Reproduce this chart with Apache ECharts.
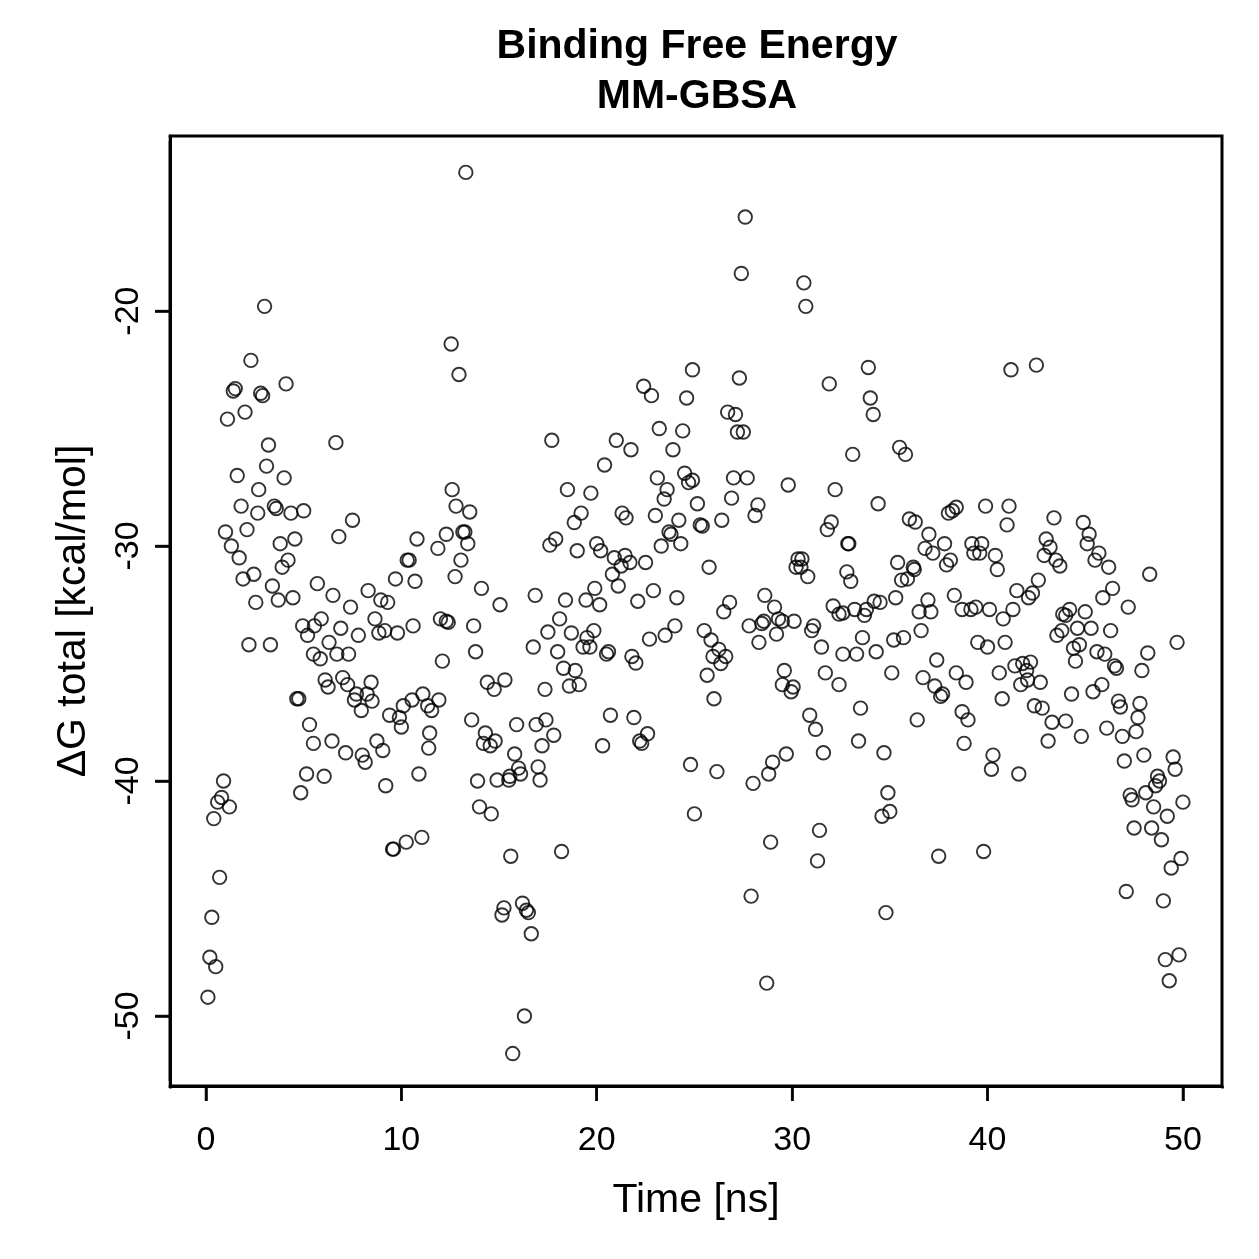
<!DOCTYPE html>
<html>
<head>
<meta charset="utf-8">
<script src="https://cdn.jsdelivr.net/npm/echarts@6/dist/echarts.min.js"></script>
<style>
html,body{margin:0;padding:0;background:#fff;}
#chart{width:1259px;height:1259px;background:#fff;}
</style>
</head>
<body>
<div id="chart"></div>
<script>
// [time (ns), ΔG total (kcal/mol)], grouped by decade
const pts0to10 = [
[0.1,-49.2],[0.2,-47.5],[0.3,-45.8],[0.4,-41.6],[0.5,-47.9],[0.6,-40.9],[0.7,-44.1],[0.8,-40.7],[0.9,-40.0],
[1.0,-29.4],[1.1,-24.6],[1.2,-41.1],[1.3,-30.0],[1.4,-23.4],[1.5,-23.3],[1.6,-27.0],[1.7,-30.5],[1.8,-28.3],[1.9,-31.4],
[2.0,-24.3],[2.1,-29.3],[2.2,-34.2],[2.3,-22.1],[2.45,-31.2],[2.55,-32.4],[2.65,-28.6],[2.7,-27.6],[2.8,-23.5],[2.9,-23.6],
[3.0,-19.8],[3.1,-26.6],[3.2,-25.7],[3.3,-34.2],[3.4,-31.7],[3.5,-28.3],[3.6,-28.4],[3.7,-32.3],[3.8,-29.9],[3.9,-30.9],
[4.0,-27.1],[4.1,-23.1],[4.2,-30.6],[4.35,-28.6],[4.45,-32.2],[4.55,-29.7],[4.65,-36.5],[4.75,-36.5],[4.85,-40.5],[4.95,-33.4],
[5.0,-28.5],[5.15,-39.7],[5.2,-33.8],[5.3,-37.6],[5.5,-38.4],[5.5,-34.6],[5.55,-33.4],[5.7,-31.6],[5.85,-34.8],[5.9,-33.1],
[6.05,-39.8],[6.1,-35.7],[6.25,-36.0],[6.3,-34.1],[6.45,-38.3],[6.5,-32.1],[6.65,-25.6],[6.7,-34.6],[6.8,-29.6],[6.9,-33.5],
[7.0,-35.6],[7.15,-38.8],[7.25,-35.9],[7.3,-34.6],[7.4,-32.6],[7.5,-28.9],[7.6,-36.55],[7.7,-36.3],[7.8,-33.8],[7.95,-37.0],
[8.0,-38.9],[8.15,-39.2],[8.25,-36.3],[8.3,-31.9],[8.45,-35.8],[8.5,-36.6],[8.65,-33.1],[8.75,-38.3],[8.85,-33.7],[8.95,-32.3],
[9.05,-38.7],[9.15,-33.6],[9.2,-40.2],[9.3,-32.4],[9.4,-37.2],[9.55,-42.9],[9.6,-42.9],[9.7,-31.4],[9.8,-33.7],[9.9,-37.3]
];
const pts10to20 = [
[10.0,-37.7],[10.1,-36.8],[10.25,-42.6],[10.3,-30.6],[10.4,-30.6],[10.55,-36.55],[10.6,-33.4],[10.7,-31.5],[10.8,-29.7],[10.9,-39.7],
[11.05,-42.4],[11.1,-36.3],[11.35,-36.8],[11.4,-38.6],[11.45,-37.96],[11.55,-37.0],[11.87,-30.1],[11.92,-36.55],
[12.0,-33.1],[12.1,-34.9],[12.3,-33.2],[12.3,-29.5],[12.4,-33.25],[12.55,-21.4],[12.6,-27.6],[12.75,-31.3],[12.8,-28.3],[12.95,-22.7],
[13.05,-30.6],[13.15,-29.4],[13.25,-29.4],[13.3,-14.1],[13.4,-29.9],[13.5,-28.55],[13.6,-37.4],[13.7,-33.4],[13.8,-34.5],[13.9,-40.0],
[14.0,-41.1],[14.1,-31.8],[14.2,-38.4],[14.3,-37.96],[14.4,-35.8],[14.55,-38.5],[14.6,-41.4],[14.75,-36.1],[14.8,-38.3],[14.9,-39.96],
[15.05,-32.5],[15.15,-45.7],[15.25,-45.4],[15.3,-35.7],[15.5,-39.96],[15.55,-39.8],[15.6,-43.2],[15.7,-51.6],[15.8,-38.85],[15.9,-37.6],
[16.0,-39.45],[16.1,-39.7],[16.2,-45.2],[16.3,-50.0],[16.4,-45.5],[16.5,-45.6],[16.65,-46.5],[16.75,-34.3],[16.85,-32.1],[16.9,-37.6],
[17.0,-39.4],[17.1,-39.96],[17.2,-38.5],[17.35,-36.1],[17.4,-37.4],[17.5,-33.66],[17.6,-29.96],[17.7,-25.5],[17.8,-38.05],[17.9,-29.7],
[18.0,-34.5],[18.1,-33.1],[18.2,-43.0],[18.3,-35.2],[18.4,-32.3],[18.5,-27.6],[18.6,-35.96],[18.7,-33.7],[18.85,-29.0],[18.9,-35.3],
[19.0,-30.2],[19.1,-35.9],[19.2,-28.6],[19.3,-34.3],[19.45,-32.3],[19.5,-33.9],[19.65,-34.3],[19.7,-27.75],[19.85,-33.6],[19.9,-31.8]
];
const pts20to30 = [
[20.0,-29.9],[20.15,-32.5],[20.2,-30.2],[20.3,-38.5],[20.4,-26.55],[20.5,-34.6],[20.6,-34.5],[20.7,-37.2],[20.8,-31.2],[20.9,-30.5],
[21.0,-25.5],[21.1,-31.7],[21.25,-30.85],[21.3,-28.6],[21.45,-30.4],[21.5,-28.8],[21.7,-30.7],[21.75,-25.9],[21.8,-34.7],[21.9,-37.3],
[22.0,-34.98],[22.1,-32.35],[22.2,-38.3],[22.3,-38.4],[22.4,-23.2],[22.5,-30.7],[22.6,-37.99],[22.7,-33.96],[22.8,-23.6],[22.9,-31.9],
[23.0,-28.7],[23.1,-27.1],[23.2,-25.0],[23.3,-30.0],[23.45,-28.0],[23.5,-33.8],[23.6,-27.6],[23.7,-29.4],[23.8,-29.5],[23.9,-25.9],
[24.0,-33.4],[24.1,-32.2],[24.2,-28.9],[24.3,-29.9],[24.4,-25.1],[24.5,-26.9],[24.6,-23.7],[24.7,-27.3],[24.8,-39.3],[24.9,-27.2],[24.9,-22.5],
[25.0,-41.4],[25.15,-28.2],[25.3,-29.1],[25.4,-29.15],[25.5,-33.6],[25.65,-35.5],[25.75,-30.9],[25.85,-34.0],[25.95,-34.7],
[26.0,-36.5],[26.15,-39.6],[26.25,-34.4],[26.35,-35.0],[26.4,-28.9],[26.5,-32.8],[26.6,-34.7],[26.7,-24.3],[26.8,-32.4],[26.9,-27.96],
[27.0,-27.1],[27.1,-24.4],[27.2,-25.15],[27.3,-22.85],[27.4,-18.4],[27.5,-25.15],[27.6,-16.0],[27.7,-27.1],[27.8,-33.4],[27.9,-44.9],
[28.0,-40.1],[28.1,-28.7],[28.25,-28.25],[28.3,-34.1],[28.45,-33.3],[28.55,-33.2],[28.6,-32.1],[28.7,-48.6],[28.8,-39.7],[28.9,-42.6],
[29.0,-39.2],[29.1,-32.6],[29.2,-33.75],[29.3,-33.1],[29.5,-33.2],[29.5,-35.9],[29.6,-35.3],[29.7,-38.85],[29.8,-27.4],[29.95,-36.2]
];
const pts30to40 = [
[30.05,-36.0],[30.1,-33.2],[30.2,-30.9],[30.3,-30.55],[30.45,-30.9],[30.5,-30.55],[30.6,-18.8],[30.7,-19.8],[30.8,-31.3],[30.9,-37.2],
[31.0,-33.6],[31.1,-33.4],[31.2,-37.8],[31.3,-43.4],[31.4,-42.1],[31.5,-34.3],[31.6,-38.8],[31.7,-35.4],[31.8,-29.3],[31.9,-23.1],
[32.0,-28.98],[32.1,-32.55],[32.2,-27.6],[32.4,-32.9],[32.4,-35.9],[32.6,-32.85],[32.6,-34.6],[32.8,-31.1],[32.85,-29.9],[32.9,-29.9],
[33.0,-31.5],[33.1,-26.1],[33.2,-32.7],[33.3,-34.6],[33.4,-38.3],[33.5,-36.9],[33.6,-33.9],[33.7,-32.95],[33.8,-32.7],[33.9,-22.4],
[34.0,-23.7],[34.15,-24.4],[34.2,-32.35],[34.3,-34.5],[34.4,-28.2],[34.5,-32.4],[34.6,-41.5],[34.7,-38.8],[34.8,-45.6],[34.9,-40.5],
[35.0,-41.3],[35.1,-35.4],[35.2,-34.0],[35.3,-32.2],[35.4,-30.7],[35.5,-25.8],[35.6,-31.45],[35.7,-33.9],[35.8,-26.1],[35.9,-31.4],
[36.0,-28.85],[36.2,-30.9],[36.25,-31.0],[36.3,-28.98],[36.4,-37.4],[36.5,-32.8],[36.6,-33.6],[36.7,-35.6],[36.8,-30.1],[36.95,-32.3],
[37.0,-29.5],[37.1,-32.8],[37.2,-30.3],[37.3,-35.96],[37.4,-34.85],[37.5,-43.2],[37.6,-36.4],[37.7,-36.3],[37.8,-29.9],[37.9,-30.8],
[38.0,-28.6],[38.1,-30.6],[38.2,-28.5],[38.3,-32.1],[38.4,-28.35],[38.4,-35.4],[38.7,-32.7],[38.7,-37.05],[38.8,-38.4],[38.9,-35.8],
[39.0,-37.4],[39.15,-32.7],[39.2,-29.9],[39.3,-30.3],[39.4,-32.6],[39.5,-34.1],[39.6,-30.3],[39.7,-29.9],[39.8,-43.0],[39.9,-28.3]
];
const pts40to50 = [
[40.0,-34.3],[40.1,-32.7],[40.2,-39.5],[40.28,-38.9],[40.4,-30.4],[40.5,-31.0],[40.6,-35.4],[40.75,-36.5],[40.8,-33.1],[40.9,-34.1],
[41.0,-29.1],[41.1,-28.3],[41.2,-22.5],[41.3,-32.7],[41.4,-35.1],[41.5,-31.9],[41.6,-39.7],[41.7,-35.9],[41.8,-35.0],
[42.0,-35.3],[42.05,-35.7],[42.1,-32.2],[42.2,-34.94],[42.3,-32.0],[42.4,-36.8],[42.5,-22.3],[42.6,-31.45],[42.7,-35.8],[42.8,-36.9],[42.9,-30.4],
[43.0,-29.7],[43.1,-38.3],[43.2,-30.05],[43.3,-37.5],[43.4,-28.8],[43.5,-30.6],[43.55,-33.8],[43.7,-30.85],[43.8,-33.6],[43.85,-32.9],
[44.0,-32.95],[44.0,-37.45],[44.2,-32.7],[44.3,-36.3],[44.4,-34.35],[44.5,-34.9],[44.6,-33.5],[44.7,-34.2],[44.8,-38.1],[44.9,-29.0],
[45.0,-32.8],[45.1,-29.9],[45.2,-29.5],[45.3,-33.5],[45.4,-36.2],[45.5,-30.6],[45.6,-34.5],[45.7,-30.3],[45.85,-35.9],[45.9,-32.2],
[46.0,-34.6],[46.1,-37.75],[46.2,-30.9],[46.3,-33.6],[46.4,-31.8],[46.5,-35.1],[46.6,-35.2],[46.7,-36.6],[46.8,-36.85],[46.9,-38.1],
[47.0,-39.15],[47.1,-44.7],[47.2,-32.6],[47.3,-40.6],[47.4,-40.8],[47.5,-42.0],[47.6,-37.9],[47.7,-37.3],[47.8,-36.7],[47.9,-35.3],
[48.0,-38.9],[48.1,-40.5],[48.2,-34.55],[48.3,-31.2],[48.4,-42.0],[48.5,-41.1],[48.6,-40.2],[48.7,-39.8],[48.8,-40.0],[48.9,-42.5],
[49.0,-45.1],[49.1,-47.6],[49.2,-41.5],[49.3,-48.5],[49.4,-43.7],[49.5,-38.98],[49.6,-39.5],[49.7,-34.1],[49.8,-47.4],[49.9,-43.3],[50.0,-40.9]
];
const xTicks = [0, 10, 20, 30, 40, 50];
const yTicks = [-50, -40, -30, -20];
const titleLines = ['Binding Free Energy', 'MM-GBSA'];
const xName = 'Time [ns]';
const yName = 'ΔG total [kcal/mol]';

const X_MIN = -1.84, X_MAX = 52.0, Y_MIN = -52.98, Y_MAX = -12.55;
const TICK_LEN = 15;

const allPts = [].concat(pts0to10, pts10to20, pts20to30, pts30to40, pts40to50);
const FONT = '"Liberation Sans", Arial, Helvetica, sans-serif';
const maskStyle = {fill: '#ffffff'};

const chart = echarts.init(document.getElementById('chart'), null, {renderer: 'canvas'});
chart.setOption({
  animation: false,
  graphic: [
    {type: 'text', x: 697, y: 47, style: {text: titleLines[0], align: 'center', verticalAlign: 'middle', font: 'bold 41px ' + FONT, fill: '#000'}},
    {type: 'text', x: 697, y: 97, style: {text: titleLines[1], align: 'center', verticalAlign: 'middle', font: 'bold 41px ' + FONT, fill: '#000'}},
    {type: 'rect', z: 100, shape: {x: 165, y: 1088.5, width: 10, height: 20}, style: maskStyle},
    {type: 'rect', z: 100, shape: {x: 1217, y: 1088.5, width: 10, height: 20}, style: maskStyle},
    {type: 'rect', z: 100, shape: {x: 148, y: 131, width: 20.5, height: 10}, style: maskStyle},
    {type: 'rect', z: 100, shape: {x: 148, y: 1081, width: 20.5, height: 10}, style: maskStyle}
  ],
  grid: {left: 170, right: 37, top: 136, bottom: 173, show: true, borderColor: '#000', borderWidth: 3},
  xAxis: {
    type: 'value', min: X_MIN, max: X_MAX,
    name: xName, nameLocation: 'middle', nameGap: 94,
    nameTextStyle: {fontFamily: FONT, fontSize: 41, color: '#000'},
    axisLine: {show: true, onZero: false, lineStyle: {color: '#000', width: 3}},
    splitLine: {show: false},
    axisTick: {show: true, inside: false, length: TICK_LEN, lineStyle: {color: '#000', width: 2.5}},
    axisLabel: {customValues: xTicks, margin: 38, fontFamily: FONT, fontSize: 34, color: '#000'}
  },
  yAxis: {
    type: 'value', min: Y_MIN, max: Y_MAX,
    name: yName, nameLocation: 'middle', nameGap: 76, nameRotate: 90,
    nameTextStyle: {fontFamily: FONT, fontSize: 41, color: '#000'},
    axisLine: {show: true, onZero: false, lineStyle: {color: '#000', width: 3}},
    splitLine: {show: false},
    axisTick: {show: true, inside: false, length: TICK_LEN, lineStyle: {color: '#000', width: 2.5}},
    axisLabel: {customValues: yTicks, rotate: 90, margin: 24, fontFamily: FONT, fontSize: 34, color: '#000'}
  },
  series: [
    {
      type: 'scatter',
      data: allPts,
      symbol: 'circle',
      symbolSize: 13.5,
      itemStyle: {color: 'rgba(0,0,0,0)', borderColor: '#000', borderWidth: 1.9},
      emphasis: {disabled: true}
    },
    {
      // x tick marks, positioned through the axis scale
      type: 'scatter', clip: false, silent: true, z: 6,
      data: xTicks.map(v => [v, Y_MIN]),
      symbol: 'rect', symbolSize: [2.5, TICK_LEN], symbolOffset: [0, TICK_LEN / 2],
      itemStyle: {color: '#000'}, emphasis: {disabled: true}
    },
    {
      // y tick marks, positioned through the axis scale
      type: 'scatter', clip: false, silent: true, z: 6,
      data: yTicks.map(v => [X_MIN, v]),
      symbol: 'rect', symbolSize: [TICK_LEN, 2.5], symbolOffset: [-TICK_LEN / 2, 0],
      itemStyle: {color: '#000'}, emphasis: {disabled: true}
    }
  ]
});
</script>
</body>
</html>
